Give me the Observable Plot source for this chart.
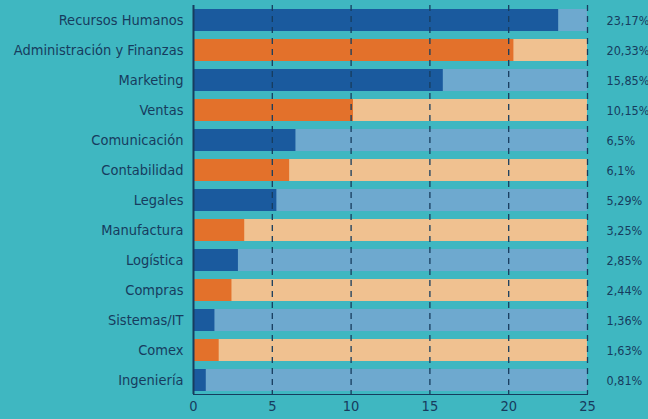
<!DOCTYPE html>
<html>
<head>
<meta charset="utf-8">
<script src="https://cdn.jsdelivr.net/npm/d3@7"></script>
<script src="https://cdn.jsdelivr.net/npm/@observablehq/plot@0.6"></script>
<style>
  html, body { margin: 0; padding: 0; background: #3fb7c1; width: 648px; height: 419px; overflow: hidden; }
  #chart svg { display: block; font-stretch: condensed; }
  #chart svg text { font-stretch: condensed; }
</style>
</head>
<body>
<div id="chart"></div>
<script>
const categories = ["Recursos Humanos", "Administración y Finanzas", "Marketing", "Ventas", "Comunicación", "Contabilidad", "Legales", "Manufactura", "Logística", "Compras", "Sistemas/IT", "Comex", "Ingeniería"];
const values = [23.17, 20.33, 15.85, 10.15, 6.5, 6.1, 5.29, 3.25, 2.85, 2.44, 1.36, 1.63, 0.81];
const valueLabels = ["23,17%", "20,33%", "15,85%", "10,15%", "6,5%", "6,1%", "5,29%", "3,25%", "2,85%", "2,44%", "1,36%", "1,63%", "0,81%"];
const xTicks = [0, 5, 10, 15, 20, 25];
const xMax = 25;

const data = categories.map((c, i) => ({cat: c, value: values[i], label: valueLabels[i], odd: i % 2 === 1}));
const blueRows = data.filter(d => !d.odd);
const orangeRows = data.filter(d => d.odd);

const ink = "#173c5e";
const chart = Plot.plot({
  width: 648,
  height: 419,
  marginLeft: 193,
  marginRight: 61,
  marginTop: 5,
  marginBottom: 25,
  style: {background: "transparent", fontFamily: "'DejaVu Sans Condensed', 'DejaVu Sans', sans-serif", fontSize: "14.5px", color: ink, overflow: "visible"},
  x: {domain: [0, xMax], ticks: xTicks, tickSize: 0, tickPadding: 6, label: null, line: true},
  y: {domain: categories, paddingInner: 0.27, paddingOuter: 0.1, tickSize: 0, tickPadding: 10, label: null},
  marks: [
    Plot.barX(blueRows, {x1: 0, x2: xMax, y: "cat", fill: "#6ea9cf"}),
    Plot.barX(orangeRows, {x1: 0, x2: xMax, y: "cat", fill: "#f0c190"}),
    Plot.barX(blueRows, {x: "value", y: "cat", fill: "#1a5a9e"}),
    Plot.barX(orangeRows, {x: "value", y: "cat", fill: "#e3712b"}),
    Plot.ruleX(xTicks.slice(1), {stroke: ink, strokeWidth: 1.3, strokeDasharray: "6,5"}),
    Plot.ruleX([0], {stroke: ink, strokeWidth: 2}),
    Plot.text(data, {x: xMax, y: "cat", text: "label", dx: 19, textAnchor: "start", fill: ink, fontSize: 12.5})
  ]
});
document.getElementById("chart").appendChild(chart);
</script>
</body>
</html>
